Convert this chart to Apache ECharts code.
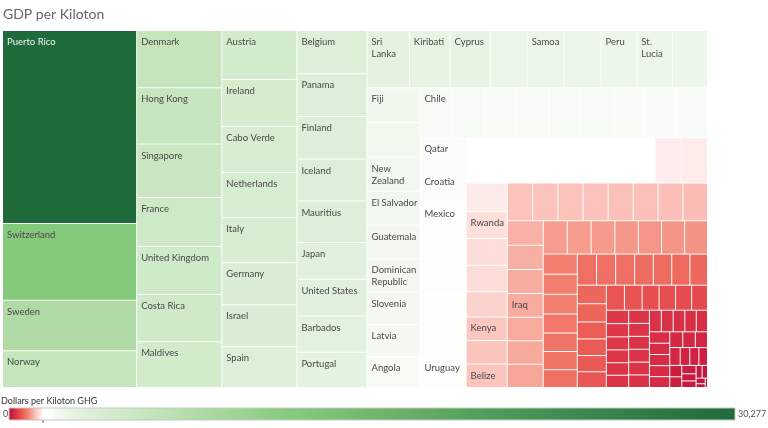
<!DOCTYPE html>
<html>
<head>
<meta charset="utf-8">
<title>GDP per Kiloton</title>
<script src="https://cdn.jsdelivr.net/npm/echarts@6/dist/echarts.min.js"></script>
<style>
  html, body { margin: 0; padding: 0; background: #fff; }
  #chart { width: 768px; height: 428px; }
</style>
</head>
<body>
<div id="chart"></div>
<script>
// countries with an empty name have no label in the original view
const countries = [
  'Puerto Rico', 'Switzerland', 'Sweden', 'Norway',
  'Denmark', 'Hong Kong', 'Singapore', 'France', 'United Kingdom', 'Costa Rica', 'Maldives',
  'Austria', 'Ireland', 'Cabo Verde', 'Netherlands', 'Italy', 'Germany', 'Israel', 'Spain',
  'Belgium', 'Panama', 'Finland', 'Iceland', 'Mauritius', 'Japan', 'United States', 'Barbados', 'Portugal',
  'Sri\nLanka', 'Kiribati', 'Cyprus', '', 'Samoa', '', 'Peru', 'St.\nLucia', '',
  'Fiji', '', 'New\nZealand', 'El Salvador', 'Guatemala', 'Dominican\nRepublic', 'Slovenia', 'Latvia', 'Angola',
  'Chile', '', '', '', '', '', '', '', '',
  'Qatar', 'Croatia', 'Mexico', '', '', '', '', 'Uruguay',
  '', '', '', '', '', '', '', '', '',
  '', 'Rwanda', '', '', '', 'Kenya', '', 'Belize',
  '', '', '', '', '', '', '', '',
  '', '', '', 'Iraq', '', '', '',
  '', '', '', '', '', '', '',
  '', '', '', '', '', '', '',
  '', '', '', '', '', '', '',
  '', '', '', '', '', '',
  '', '', '', '', '', '',
  '', '', '', '', '', '',
  '', '', '', '', '', '', '',
  '', '', '', '',
  '', '', '', '', '',
  '', '', '', '', '', '', '', '', '', '', '', '', '', '', '', '', ''
];

const dollarsPerKt = [
  30277, 12028, 7919, 5778,
  5712, 5593, 5323, 4894, 4764, 4724, 4544,
  4300, 4142, 4027, 3965, 3960, 3700, 3690, 3569,
  3553, 3500, 3480, 3454, 3397, 3018, 3010, 2961, 2895,
  2833, 2726, 2679, 2478, 2470, 2465, 2400, 2380, 2344,
  2160, 2140, 2120, 2100, 2085, 2070, 2010, 1980, 1925,
  1905, 1895, 1885, 1880, 1875, 1870, 1860, 1850, 1840,
  1757, 1705, 1680, 1675, 1670, 1665, 1660, 1648,
  1440, 1435, 1430, 1425, 1420, 1415, 1410, 1392, 1385,
  1380, 1290, 1285, 1280, 1205, 1140, 1130, 1125,
  1120, 1115, 1110, 1108, 1105, 1100, 1095, 1085,
  1030, 1020, 1010, 1000, 995, 990, 975,
  935, 930, 925, 915, 905, 900, 890,
  800, 795, 790, 755, 735, 730, 705,
  700, 695, 690, 680, 670, 660, 640,
  630, 620, 575, 565, 550, 535,
  530, 520, 495, 485, 470, 465,
  350, 345, 340, 335, 328, 320,
  318, 316, 314, 312, 310, 306, 300,
  298, 294, 288, 283,
  272, 268, 265, 262, 258,
  240, 232, 225, 218, 200, 190, 180, 160, 150, 140, 120, 110, 90, 80, 60, 40, 25
];

const legendMin = 0;
const legendMax = 30277;
const legendLabels = ['0', '30,277'];

// diverging red - white - green ramp
const colorStops = [
  [0, '#b8103a'], [200, '#d12243'], [400, '#e2404a'], [600, '#ec6157'],
  [800, '#f27f6f'], [950, '#f6a092'], [1100, '#fbc0b8'], [1250, '#fdd9d5'],
  [1395, '#fdedec'], [1405, '#ffffff'], [1800, '#fbfdfa'], [2000, '#f3f9f1'],
  [2400, '#ecf6e9'], [3000, '#e2f1de'], [4000, '#d7edd1'], [5000, '#cde9c6'],
  [6000, '#c3e4ba'], [8000, '#afdaa4'], [12000, '#84c97c'], [16000, '#6cb26a'],
  [22000, '#449255'], [30277, '#1f6b3c']
];

function toRgb(hex) {
  const n = parseInt(hex.slice(1), 16);
  return [(n >> 16) & 255, (n >> 8) & 255, n & 255];
}

function colorFor(v) {
  for (let i = 1; i < colorStops.length; i++) {
    if (v <= colorStops[i][0]) {
      const [v0, c0] = colorStops[i - 1];
      const [v1, c1] = colorStops[i];
      const t = (v - v0) / (v1 - v0);
      const a = toRgb(c0), b = toRgb(c1);
      const rgb = a.map((x, k) => Math.round(x + (b[k] - x) * t));
      return 'rgb(' + rgb.join(',') + ')';
    }
  }
  return colorStops[colorStops.length - 1][1];
}

const data = countries.map((name, i) => {
  const v = dollarsPerKt[i];
  return {
    name: name || ('n' + i),
    value: v,
    itemStyle: { color: colorFor(v) },
    label: { show: !!name, color: v > 20000 ? '#eef5f0' : '#484848' }
  };
});

const legendGradient = new echarts.graphic.LinearGradient(0, 0, 1, 0,
  colorStops.map(([v, c]) => ({ offset: (v - legendMin) / (legendMax - legendMin), color: c })));

const chart = echarts.init(document.getElementById('chart'));
chart.setOption({
  animation: false,
  backgroundColor: '#fff',
  series: [{
    type: 'treemap',
    left: 3,
    top: 31,
    width: 704,
    height: 356,
    roam: false,
    nodeClick: false,
    breadcrumb: { show: false },
    itemStyle: { borderWidth: 0, gapWidth: 1, borderColor: '#fff' },
    label: {
      show: true,
      position: 'insideTopLeft',
      padding: [5, 2, 0, 4],
      fontFamily: 'Lato',
      fontSize: 9.5,
      lineHeight: 12,
      overflow: 'none'
    },
    emphasis: { disabled: true },
    data: data
  }],
  graphic: [
    { type: 'text', x: 3, y: 14, style: { text: 'GDP per Kiloton', font: '14px Lato', fill: '#666', verticalAlign: 'middle' } },
    { type: 'text', x: 1, y: 401, style: { text: 'Dollars per Kiloton GHG', font: '9px Lato', fill: '#333', verticalAlign: 'middle' } },
    { type: 'rect', shape: { x: 9, y: 408, width: 726, height: 12 }, style: { fill: legendGradient, stroke: '#c8c8c8', lineWidth: 1 } },
    { type: 'line', shape: { x1: 43, y1: 420, x2: 43, y2: 423 }, style: { stroke: '#666', lineWidth: 1 } },
    { type: 'text', x: 3, y: 414, style: { text: legendLabels[0], font: '9px Lato', fill: '#555', verticalAlign: 'middle' } },
    { type: 'text', x: 738, y: 414, style: { text: legendLabels[1], font: '9px Lato', fill: '#555', verticalAlign: 'middle' } }
  ]
});
</script>
</body>
</html>
